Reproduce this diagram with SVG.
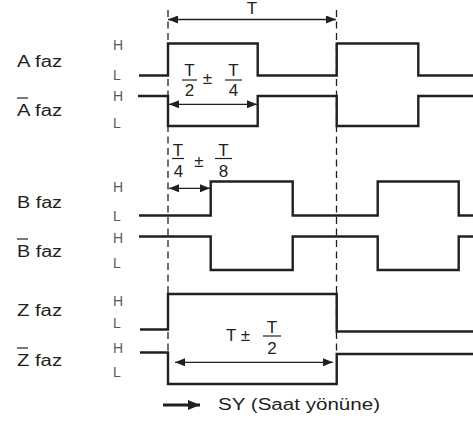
<svg xmlns="http://www.w3.org/2000/svg" width="473" height="423" viewBox="0 0 473 423">
<style>
.wave{fill:none;stroke:#231f20;stroke-width:2.4;stroke-linejoin:miter}
.dash{stroke:#231f20;stroke-width:1.3;stroke-dasharray:7 4.5}
.arr{stroke:#231f20;stroke-width:1.3;fill:none}
.name{font-family:"Liberation Sans",Arial,sans-serif;font-size:16px;fill:#231f20}
.hl{font-family:"Liberation Sans",Arial,sans-serif;font-size:14px;fill:#58595b}
.fr{font-family:"Liberation Sans",Arial,sans-serif;font-size:17px;fill:#231f20;text-anchor:middle}
.bar{stroke:#231f20;stroke-width:1.2}
</style>
<defs>
<marker id="ah" viewBox="0 0 10 8" refX="10" refY="4" markerWidth="10" markerHeight="8" markerUnits="userSpaceOnUse" orient="auto-start-reverse">
<path d="M0,0 L10,4 L0,8 Z" fill="#231f20"/>
</marker>
<marker id="bh" viewBox="0 0 12 10" refX="12" refY="5" markerWidth="12" markerHeight="10" markerUnits="userSpaceOnUse" orient="auto">
<path d="M0,0 L12,5 L0,10 Z" fill="#231f20"/>
</marker>
</defs>
<rect width="473" height="423" fill="#fff"/>

<g id="guides">
<line class="dash" x1="168" y1="10" x2="168" y2="352"/>
<line class="dash" x1="336.5" y1="10" x2="336.5" y2="352"/>
</g>

<g id="A">
<text class="name" x="17" y="67" textLength="45" lengthAdjust="spacingAndGlyphs">A faz</text>
<text class="hl" x="113" y="50">H</text>
<text class="hl" x="113" y="80">L</text>
<path class="wave" d="M139,75.5 H168 V43.5 H257.7 V75.5 H336.7 V43.5 H418.3 V75.5 H473"/>
</g>
<g id="Abar">
<text class="name" x="17" y="116" textLength="45" lengthAdjust="spacingAndGlyphs">A faz</text>
<line class="bar" x1="17" y1="98" x2="28" y2="98"/>
<text class="hl" x="113" y="101">H</text>
<text class="hl" x="113" y="128">L</text>
<path class="wave" d="M138,96 H168 V126 H257.7 V96 H336.7 V126 H418.3 V96 H473"/>
</g>
<g id="B">
<text class="name" x="17" y="208" textLength="45" lengthAdjust="spacingAndGlyphs">B faz</text>
<text class="hl" x="113" y="192">H</text>
<text class="hl" x="113" y="221">L</text>
<path class="wave" d="M139,215.5 H210.7 V181.5 H292.7 V215.5 H377.7 V181.5 H458.7 V215.5 H473"/>
</g>
<g id="Bbar">
<text class="name" x="17" y="257" textLength="45" lengthAdjust="spacingAndGlyphs">B faz</text>
<line class="bar" x1="17" y1="239" x2="28" y2="239"/>
<text class="hl" x="113" y="243">H</text>
<text class="hl" x="113" y="268">L</text>
<path class="wave" d="M139,236.5 H210.7 V270 H292.7 V236.5 H377.7 V270 H458.7 V236.5 H473"/>
</g>
<g id="Z">
<text class="name" x="17" y="316" textLength="45" lengthAdjust="spacingAndGlyphs">Z faz</text>
<text class="hl" x="113" y="306">H</text>
<text class="hl" x="113" y="328">L</text>
<path class="wave" d="M140,329.5 H168 V294 H336.7 V331.5 H473"/>
</g>
<g id="Zbar">
<text class="name" x="17" y="366" textLength="45" lengthAdjust="spacingAndGlyphs">Z faz</text>
<line class="bar" x1="17" y1="348" x2="28" y2="348"/>
<text class="hl" x="113" y="353">H</text>
<text class="hl" x="113" y="377">L</text>
<path class="wave" d="M140,352.5 H168 V384 H336.7 V354 H473"/>
</g>

<g id="connectors">
<line class="arr" x1="168" y1="19.5" x2="336" y2="19.5" marker-start="url(#ah)" marker-end="url(#ah)"/>
<line class="arr" x1="169" y1="104.3" x2="257" y2="104.3" marker-start="url(#ah)" marker-end="url(#ah)"/>
<line class="arr" x1="169" y1="188.3" x2="210" y2="188.3" marker-start="url(#ah)" marker-end="url(#ah)"/>
<line class="arr" x1="175" y1="362.3" x2="333" y2="362.3" marker-start="url(#ah)" marker-end="url(#ah)"/>
</g>

<g id="labels">
<text class="fr" x="252" y="13.5">T</text>
<text class="fr" x="189.5" y="76">T</text>
<line class="bar" x1="182" y1="80" x2="197" y2="80"/>
<text class="fr" x="189.5" y="96">2</text>
<text class="fr" x="207.5" y="84">±</text>
<text class="fr" x="233.5" y="76">T</text>
<line class="bar" x1="225" y1="80" x2="242" y2="80"/>
<text class="fr" x="233.5" y="96">4</text>

<text class="fr" x="178" y="155.5">T</text>
<line class="bar" x1="172" y1="158.5" x2="184" y2="158.5"/>
<text class="fr" x="178.5" y="176.5">4</text>
<text class="fr" x="199" y="167">±</text>
<text class="fr" x="223.5" y="155.5">T</text>
<line class="bar" x1="215" y1="158.5" x2="232" y2="158.5"/>
<text class="fr" x="223.5" y="176.5">8</text>

<text class="fr" x="238" y="340.5">T ±</text>
<text class="fr" x="272" y="333">T</text>
<line class="bar" x1="263" y1="336" x2="281" y2="336"/>
<text class="fr" x="272" y="353.5">2</text>
</g>

<g id="legend">
<line x1="163" y1="405" x2="200" y2="405" stroke="#231f20" stroke-width="3" marker-end="url(#bh)"/>
<text class="name" x="218" y="410" textLength="162" lengthAdjust="spacingAndGlyphs">SY (Saat yönüne)</text>
</g>
</svg>
